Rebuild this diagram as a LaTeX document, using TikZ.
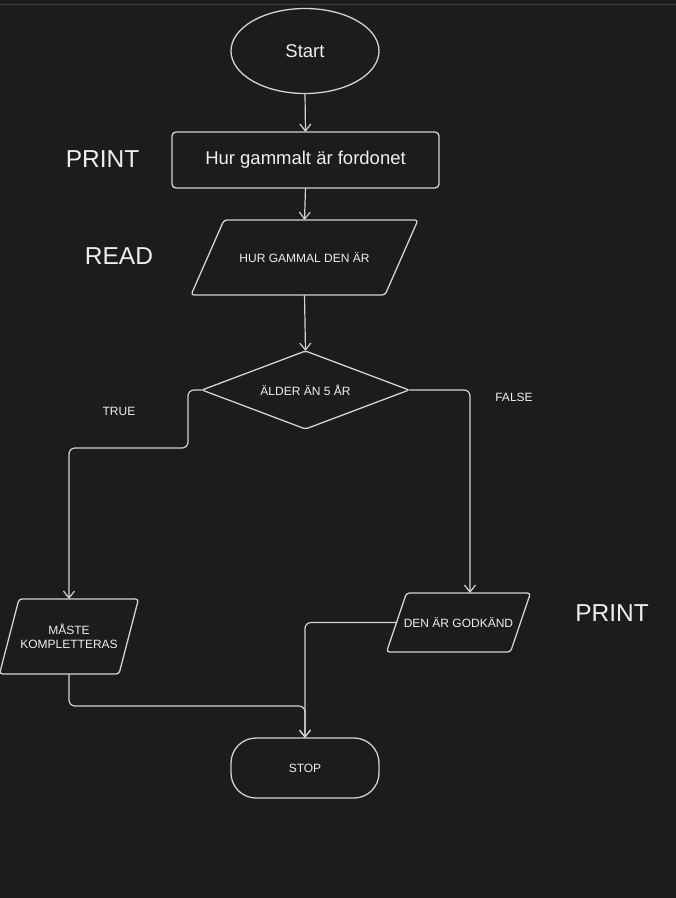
\documentclass[tikz,border=0pt]{standalone}
\usepackage{fontspec}
\setmainfont{Liberation Sans}
\usetikzlibrary{shapes}
\usetikzlibrary{arrows.meta}
\definecolor{bgcol}{HTML}{1C1C1C}
\definecolor{linecol}{HTML}{D2D2D2}
\definecolor{txtcol}{HTML}{EEEEEE}
\definecolor{topcol}{HTML}{3A3A3A}
\newcommand\drawio[2]{\draw[ioline] ([xshift=#2]#1.north west) -- ([xshift=#2]#1.north east) -- ([xshift=-#2]#1.south east) -- ([xshift=-#2]#1.south west) -- cycle;}

\begin{document}
\begin{tikzpicture}[x=1pt,y=-1pt]
					\tikzstyle{box}=[draw=linecol,line width=1.3pt,text=txtcol,align=center,inner sep=0pt,outer sep=0pt]
					\tikzstyle{big}=[font=\fontsize{18.5}{22}\selectfont]
					\tikzstyle{small}=[font=\fontsize{12}{14}\selectfont]
					\tikzstyle{io}=[text=txtcol,small,align=center,rectangle,inner sep=0pt,outer sep=0pt]
					\tikzstyle{ioline}=[draw=linecol,line width=1.3pt,rounded corners=3pt]
					\tikzstyle{lbl}=[text=txtcol,inner sep=0pt]
					\tikzstyle{flow}=[draw=linecol,line width=1.2pt,rounded corners=6pt,-{Straight Barb[length=7pt,width=11pt]}]
					
					\useasboundingbox (0,0) rectangle (676,898);
					\fill[bgcol] (0,0) rectangle (676,898);
					\draw[topcol,line width=1pt] (0,4.5) -- (676,4.5);
					
					\node[box,big,ellipse,minimum width=148pt,minimum height=85pt] (start) at (305,51) {Start};
					\node[box,big,rectangle,rounded corners=4pt,minimum width=267pt,minimum height=56pt] (print) at (305.5,160) {Hur gammalt är fordonet};
					\node[io,minimum width=194pt,minimum height=75pt] (read) at (304.5,257.5) {HUR GAMMAL DEN ÄR};
					\node[box,small,diamond,aspect=2.65,rounded corners=2pt,minimum width=207pt,minimum height=78pt] (cond) at (305.5,390) {ÄLDER ÄN 5 ÅR};
					\node[io,minimum width=119.5pt,minimum height=75pt] (komp) at (69,636.5) {MÅSTE\\KOMPLETTERAS};
					\node[io,minimum width=124pt,minimum height=59pt] (godk) at (458.5,622.5) {DEN ÄR GODKÄND};
					\node[box,small,rectangle,rounded corners=25pt,minimum width=148pt,minimum height=60pt] (stop) at (305,768) {STOP};
					\drawio{read}{16.5pt}
					\drawio{komp}{9.75pt}
					\drawio{godk}{10pt}
					
					\node[lbl,font=\fontsize{24.5}{28}\selectfont] (lprint) at (102.5,159) {PRINT};
					\node[lbl,font=\fontsize{24.5}{28}\selectfont] (lread) at (119,256) {READ};
					\node[lbl,small] (ltrue) at (119,411) {TRUE};
					\node[lbl,small] (lfalse) at (514,397) {FALSE};
					\node[lbl,font=\fontsize{24.5}{28}\selectfont] (lprint2) at (612,613) {PRINT};
					
					\coordinate (tbend) at (188,448);
					\coordinate (fbend) at (470,390);
					\coordinate (join) at (305,706);
					
					\draw[flow] (start.south) -- (print.north);
					\draw[flow] (print.south) -- (read.north);
					\draw[flow] (read.south) -- (cond.north);
					\draw[flow] (cond.west) -| (tbend) -| (komp.north);
					\draw[flow] (cond.east) -- (fbend) -- (fbend |- godk.north);
					\draw[flow] (godk.west) -| (stop.north);
					\draw[flow] (komp.south) |- (join) -- (stop.north);
\end{tikzpicture}
\end{document}
